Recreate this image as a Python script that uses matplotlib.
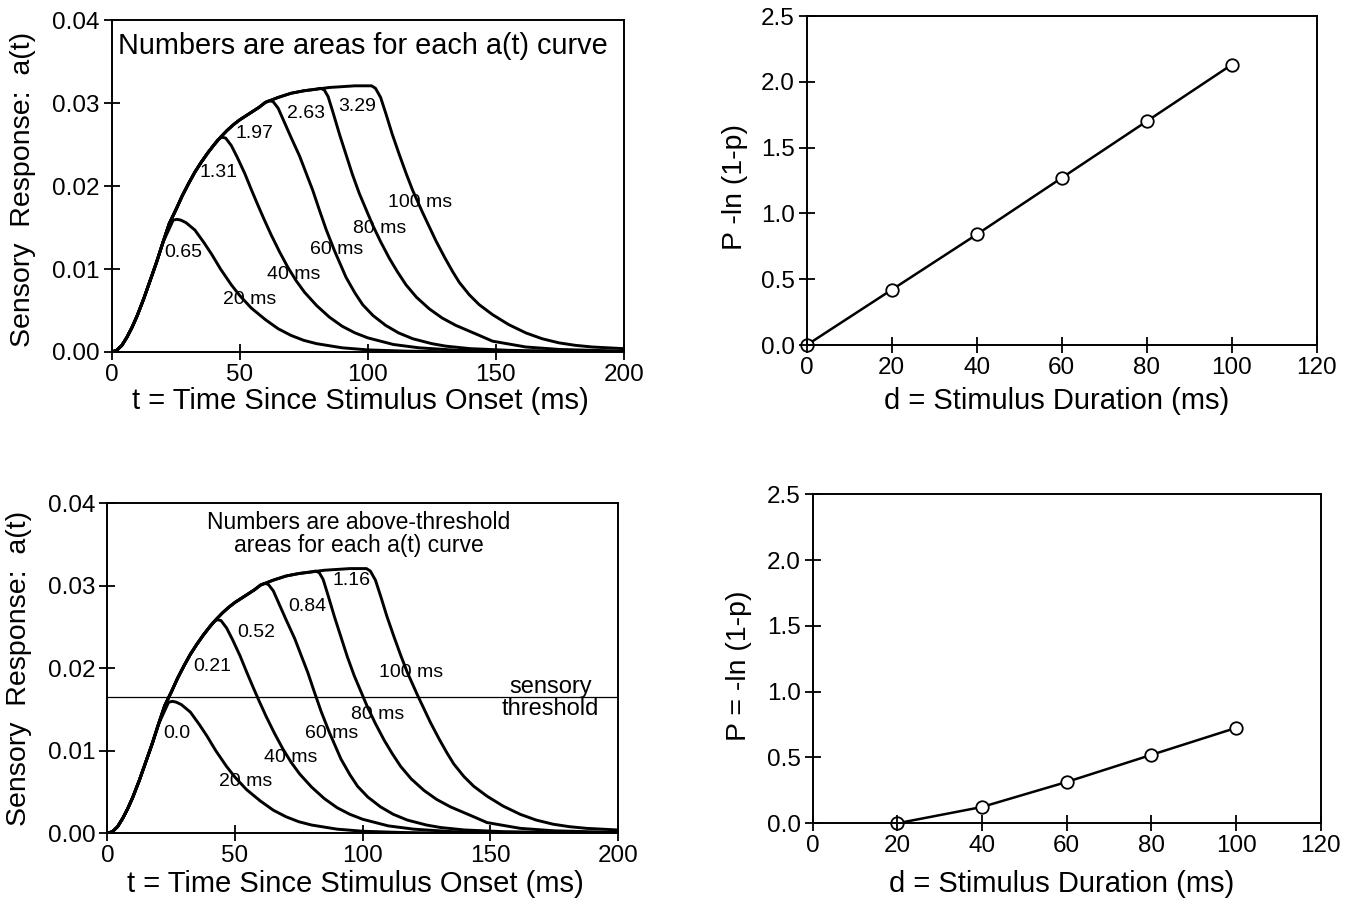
import matplotlib
matplotlib.use("Agg")
import matplotlib.pyplot as plt

plt.rcParams['font.family'] = ['Liberation Sans', 'DejaVu Sans']

# rising part shared by all a(t) curves (t in ms, a(t))
rise_t = [0, 2, 4, 6, 8, 10, 12.5, 15, 17.5, 20, 22.5, 25, 27.5, 30, 32.5, 35, 37.5,
          40, 42.5, 45, 47.5, 50, 52.5, 55, 57.5, 60, 62.5, 65, 70, 75, 80, 85, 90, 95, 100]
rise_a = [0, 0.0002, 0.0008, 0.0018, 0.0030, 0.0044, 0.0064, 0.0086, 0.0108, 0.0132, 0.0155,
          0.0171, 0.0188, 0.0203, 0.0217, 0.0229, 0.0240, 0.0250, 0.0259, 0.0267, 0.0274,
          0.0280, 0.0285, 0.0290, 0.0295, 0.0301, 0.0304, 0.0307, 0.0312, 0.0315, 0.0317,
          0.0319, 0.0320, 0.0321, 0.0321]

durations = [20, 40, 60, 80, 100]

# falling part of each curve, after the stimulus ends
fall_t = {
    20: [24, 25.5, 27, 29, 32.5, 36, 39, 42.5, 46.7, 50, 54.5, 60, 65, 70, 75, 80, 90, 100, 115, 130, 150],
    40: [41.5, 43, 44.5, 46.7, 49, 52, 54.5, 57.1, 59.5, 62.3, 65.5, 68.8, 72, 75.3, 80, 85, 90, 95,
         100, 110, 120, 135, 150, 170],
    60: [61.5, 63, 65, 67, 70, 73.4, 76, 78.5, 81, 83.7, 87, 91.5, 95, 98, 102, 107, 112, 117.5,
         125, 130.5, 140, 155, 175, 200],
    80: [81.5, 83, 84.5, 86.3, 89, 91.5, 94, 96.7, 99.3, 101.9, 105, 108.4, 111.5, 114.9, 119, 124,
         129, 134.4, 143.5, 148.7, 161.7, 175, 200],
    100: [101.5, 103, 105, 107.1, 109.5, 112.3, 115, 117.5, 121.4, 124, 126.6, 130, 133.1, 135.7,
          139.6, 143.5, 148.7, 155, 161.7, 168, 174.6, 181, 187.6, 200],
}
fall_a = {
    20: [0.0159, 0.0160, 0.0159, 0.0156, 0.0147, 0.0132, 0.0118, 0.0100, 0.0081, 0.0068, 0.0053,
         0.0039, 0.0028, 0.0020, 0.0014, 0.0010, 0.0005, 0.00025, 0.0001, 0.00003, 0.0],
    40: [0.0256, 0.0259, 0.0258, 0.0249, 0.0235, 0.0215, 0.0196, 0.0177, 0.0160, 0.0141, 0.0121,
         0.0102, 0.0086, 0.0072, 0.0056, 0.0042, 0.0031, 0.0023, 0.0017, 0.0009, 0.0005, 0.0002,
         0.0001, 0.0],
    60: [0.0303, 0.0302, 0.0294, 0.0280, 0.0259, 0.0236, 0.0215, 0.0195, 0.0172, 0.0148, 0.0122,
         0.0090, 0.0071, 0.0057, 0.0044, 0.0032, 0.0023, 0.0016, 0.0010, 0.0007, 0.0004, 0.0002,
         0.0001, 0.0],
    80: [0.0318, 0.0316, 0.0308, 0.0290, 0.0262, 0.0238, 0.0214, 0.0191, 0.0172, 0.0153, 0.0133,
         0.0113, 0.0097, 0.0081, 0.0066, 0.0052, 0.0041, 0.0032, 0.0020, 0.0013, 0.0006, 0.0003,
         0.0001],
    100: [0.0321, 0.0318, 0.0307, 0.0287, 0.0263, 0.0238, 0.0215, 0.0195, 0.0168, 0.0151, 0.0134,
          0.0114, 0.0097, 0.0084, 0.0069, 0.0057, 0.0045, 0.0033, 0.0023, 0.0016, 0.0011, 0.0008,
          0.0006, 0.0004],
}

threshold = 0.0165

areas_all = ['0.65', '1.31', '1.97', '2.63', '3.29']
areas_above = ['0.0', '0.21', '0.52', '0.84', '1.16']

# right panels: P = -ln(1-p) against stimulus duration
d_top = [0, 20, 40, 60, 80, 100]
p_top = [0.0, 0.42, 0.84, 1.27, 1.70, 2.13]
d_bot = [20, 40, 60, 80, 100]
p_bot = [0.0, 0.124, 0.314, 0.52, 0.725]

fig = plt.figure(figsize=(13.52, 8.99), dpi=100)
ax_tl = fig.add_axes([0.0826, 0.6085, 0.3789, 0.3689])
ax_tr = fig.add_axes([0.5967, 0.6162, 0.3772, 0.3660])
ax_bl = fig.add_axes([0.0794, 0.0731, 0.3777, 0.3669])
ax_br = fig.add_axes([0.6010, 0.0842, 0.3759, 0.3660])


def style(ax):
    for s in ax.spines.values():
        s.set_linewidth(1.4)
    ax.tick_params(direction='inout', length=11, width=1.3, labelsize=17.5, pad=3,
                   top=False, right=False)
    ax.set_axisbelow(False)


def curves(ax, labels_area, area_pos, ms_pos):
    for d in durations:
        t = [x for x in rise_t if x <= d] + fall_t[d]
        a = [y for x, y in zip(rise_t, rise_a) if x <= d] + fall_a[d]
        ax.plot(t, a, color='black', lw=2.1, solid_joinstyle='round')
    for lab, (x, y) in zip(labels_area, area_pos):
        ax.text(x, y, lab, fontsize=14, ha='center', va='center')
    for d, (x, y) in zip(durations, ms_pos):
        ax.text(x, y, f'{d} ms', fontsize=14, ha='center', va='center')
    ax.set_xlim(0, 200)
    ax.set_ylim(0, 0.04)
    ax.set_xticks([0, 50, 100, 150, 200])
    ax.set_yticks([0, 0.01, 0.02, 0.03, 0.04])
    ax.set_yticklabels(['0.00', '0.01', '0.02', '0.03', '0.04'])
    ax.set_xlabel('t = Time Since Stimulus Onset (ms)', fontsize=21)
    ax.set_ylabel('Sensory  Response:  a(t)', fontsize=20.5)
    style(ax)


# top left
curves(ax_tl, areas_all,
       [(27.9, 0.0120), (41.8, 0.0216), (55.8, 0.0264), (76, 0.0288), (95.7, 0.0296)],
       [(54, 0.0063), (71, 0.0093), (88, 0.0124), (104.5, 0.0149), (120.5, 0.0180)])
ax_tl.text(2.5, 0.0369, 'Numbers are areas for each a(t) curve', fontsize=20.8,
           ha='left', va='center')
ax_tl.xaxis.set_label_coords(0.485, -0.106)
ax_tl.yaxis.set_label_coords(-0.148, 0.49)

# bottom left
curves(ax_bl, areas_above,
       [(27.2, 0.0121), (40.9, 0.0202), (58.5, 0.0243), (78.5, 0.0275), (95.5, 0.0306)],
       [(54, 0.0063), (72, 0.0092), (88, 0.0121), (106, 0.0144), (119, 0.0195)])
ax_bl.axhline(threshold, color='black', lw=0.9)
ax_bl.text(173.5, 0.0164, 'sensory\nthreshold', fontsize=17, ha='center', va='center',
           linespacing=0.95)
ax_bl.text(98.5, 0.0363, 'Numbers are above-threshold\nareas for each a(t) curve',
           fontsize=16.5, ha='center', va='center', linespacing=1.0)
ax_bl.xaxis.set_label_coords(0.485, -0.111)
ax_bl.yaxis.set_label_coords(-0.148, 0.5)

# right panels
for ax, d, p, lab in [(ax_tr, d_top, p_top, 'P -ln (1-p)'),
                      (ax_br, d_bot, p_bot, 'P = -ln (1-p)')]:
    ax.plot(d, p, color='black', lw=1.8, marker='o', markersize=9,
            markerfacecolor='white', markeredgecolor='black', markeredgewidth=1.3,
            clip_on=False, zorder=2)
    ax.set_xlim(0, 120)
    ax.set_ylim(0, 2.5)
    ax.set_xticks([0, 20, 40, 60, 80, 100, 120])
    ax.set_yticks([0, 0.5, 1.0, 1.5, 2.0, 2.5])
    ax.set_yticklabels(['0.0', '0.5', '1.0', '1.5', '2.0', '2.5'])
    ax.set_xlabel('d = Stimulus Duration (ms)', fontsize=21)
    ax.set_ylabel(lab, fontsize=20.5)
    style(ax)

ax_tr.xaxis.set_label_coords(0.49, -0.127)
ax_tr.yaxis.set_label_coords(-0.115, 0.48)
ax_br.xaxis.set_label_coords(0.49, -0.142)
ax_br.yaxis.set_label_coords(-0.119, 0.48)

fig.savefig('out.png', dpi=100)
